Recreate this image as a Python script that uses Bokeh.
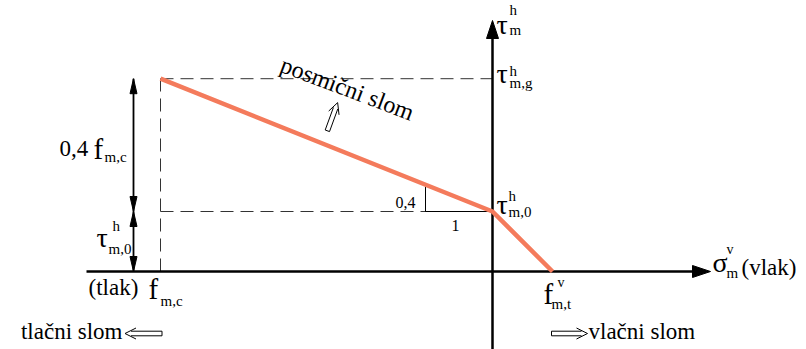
import numpy as np
from bokeh.plotting import figure
from bokeh.models import Range1d
from bokeh.core.properties import value
from bokeh.embed import file_html
from bokeh.resources import INLINE

# ---------------- data ----------------
f_mc = -8.3          # compressive strength  (tlak)
f_mt = 1.5           # tensile strength      (vlak)
tau_m0 = 1.5         # shear strength at zero normal stress
tau_mg = 4.82        # limit shear strength  = tau_m0 + 0.4 |f_mc|
env_x = [-8.3, 0.0, 1.5]      # failure envelope, sigma
env_y = [4.82, 1.5, 0.0]      # failure envelope, tau
tri_run = 1.675               # horizontal leg of slope triangle ("1")
tri_rise = 0.67               # vertical leg of slope triangle ("0,4")
slope_labels = ["0,4", "1"]

# ---------------- figure ----------------
W, H = 806, 349
S = 40.0                       # pixels per data unit (both axes)
x0 = -12.3
y1 = 6.775
p = figure(width=W, height=H, output_backend="svg", toolbar_location=None,
           x_range=Range1d(x0, x0 + W / S), y_range=Range1d(y1 - H / S, y1),
           x_axis_location=None, y_axis_location=None, min_border=0)
p.grid.visible = False
p.outline_line_color = None
p.background_fill_color = "white"
p.border_fill_color = "white"

ybot = y1 - H / S
SERIF = "Liberation Serif"


def label(x, y, txt, dx, dy, size, align="left", angle=0.0, font=SERIF):
    corr = -(0.25 * size + 1)   # compensate baseline placement
    p.text(x=[x], y=[y], text=[txt], x_offset=dx, y_offset=dy + corr,
           text_font=value(font), text_font_size=f"{size}px",
           text_align=align, text_baseline="alphabetic", angle=angle,
           text_color="black")


def head(tx, ty, ux, uy, length, half):
    """filled triangle head, tip at (tx,ty) data, direction (ux,uy) screen-up"""
    bx, by = -ux * length, -uy * length
    nx, ny = -uy * half, ux * half
    xs = [tx, tx + (bx + nx) / S, tx + (bx - nx) / S]
    ys = [ty, ty + (by + ny) / S, ty + (by - ny) / S]
    return xs, ys


def double_arrow(ax, ay, cx, cy, length, ang):
    """open double-line arrow centred at screen offset (cx,cy) from (ax,ay);
    ang = direction in radians (counter-clockwise, y up)"""
    ux, uy = np.cos(ang), np.sin(ang)
    nx, ny = -uy, ux
    cxd, cyd = ax + cx / S, ay - cy / S

    def pt(u, v):
        return cxd + (u * ux + v * nx) / S, cyd + (u * uy + v * ny) / S
    L = length / 2.0
    g = 2.3
    lines = []
    for s in (1, -1):
        a, b = pt(-L, s * g), pt(L - 6, s * g)
        lines.append(([a[0], b[0]], [a[1], b[1]]))
        c, d = pt(L - 11, s * 5.5), pt(L, 0)
        lines.append(([c[0], d[0]], [c[1], d[1]]))
    a, b = pt(-L, g), pt(-L, -g)
    lines.append(([a[0], b[0]], [a[1], b[1]]))
    p.multi_line(xs=[l[0] for l in lines], ys=[l[1] for l in lines],
                 line_color="black", line_width=1)


# ---------------- dashed guide lines ----------------
DASH = "13 7"
p.line([f_mc, 0], [tau_mg, tau_mg], line_color="#333333", line_width=1, line_dash=DASH)
p.line([f_mc, 0], [tau_m0, tau_m0], line_color="#333333", line_width=1, line_dash=DASH)
p.line([f_mc, f_mc], [0, tau_mg], line_color="#333333", line_width=1, line_dash=DASH)

# ---------------- axes with arrows ----------------
ytip = y1 - 20 / S
xtip = 5.45
xleft = -10.15
p.line([0, 0], [ybot, ytip - 10 / S], line_color="black", line_width=2.5)
p.line([xleft, xtip - 10 / S], [0, 0], line_color="black", line_width=2.5)
hx1, hy1 = head(0, ytip, 0, 1, 18, 6)
hx2, hy2 = head(xtip, 0, 1, 0, 18, 6)
p.patches(xs=[hx1, hx2], ys=[hy1, hy2], fill_color="black", line_color="black")

# ---------------- slope triangle ----------------
p.line([-tri_run, -tri_run, 0], [tau_m0 + tri_rise, tau_m0, tau_m0],
       line_color="black", line_width=1)

# ---------------- failure envelope ----------------
p.line(env_x, env_y, line_color="#F47B5C", line_width=4.5, line_join="round")

# ---------------- dimension line ----------------
x_dim = f_mc - 27 / S
p.line([x_dim, x_dim], [0, tau_mg], line_color="black", line_width=1.8)
hs = [head(x_dim, tau_mg, 0, 1, 15, 3.5), head(x_dim, tau_m0, 0, -1, 15, 3.5),
      head(x_dim, tau_m0, 0, 1, 15, 3.5), head(x_dim, 0, 0, -1, 15, 3.5)]
p.patches(xs=[h[0] for h in hs], ys=[h[1] for h in hs],
          fill_color="black", line_color="black")

# ---------------- labels ----------------
TAU, SUB, BIG, TXT = 28, 15, 29, 23
# tau axis title
label(0, ytip, "τ", 4, 12, TAU)
label(0, ytip, "h", 17, -6, SUB)
label(0, ytip, "m", 17, 14, SUB)
# tau_m,g
label(0, tau_mg, "τ", 4, 3, TAU)
label(0, tau_mg, "h", 17, -3, SUB)
label(0, tau_mg, "m,g", 17, 9, SUB)
# tau_m,0 (right)
label(0, tau_m0, "τ", 4, 1, TAU)
label(0, tau_m0, "h", 16, -11, SUB)
label(0, tau_m0, "m,0", 16, 5, SUB)
# sigma axis title
label(xtip, 0, "σ", 2, -1, TAU)
label(xtip, 0, "v", 16, -18, 14)
label(xtip, 0, "m", 16, 6, SUB)
label(xtip, 0, "(vlak)", 31, 3, TXT)
# f_m,t
label(f_mt, 0, "f", -9, 31, BIG)
label(f_mt, 0, "v", 5, 15, 14)
label(f_mt, 0, "m,t", -1, 37, SUB)
# f_m,c
label(f_mc, 0, "(tlak)", -72, 23, TXT)
label(f_mc, 0, "f", -12, 26, BIG)
label(f_mc, 0, "m,c", 0, 34, SUB)
# dimension labels
ymid = (tau_m0 + tau_mg) / 2
label(x_dim, ymid, "0,4", -74, 10, TXT)
label(x_dim, ymid, "f", -40, 12, BIG)
label(x_dim, ymid, "m,c", -29, 17, SUB)
label(x_dim, tau_m0 / 2, "τ", -37, 4, TAU)
label(x_dim, tau_m0 / 2, "h", -21, -11, SUB)
label(x_dim, tau_m0 / 2, "m,0", -25, 12, SUB)
# slope triangle labels
label(-tri_run, tau_m0, slope_labels[0], -10, -4, 16, align="right")
label(-tri_run, tau_m0, slope_labels[1], 30, 19, 16, align="center")
# failure modes
label(f_mc, 0, "tlačni slom", -38, 67, TXT, align="right")
double_arrow(f_mc, 0, -17, 62, 37, np.pi)
label(f_mt, 0, "vlačni slom", 36, 67, TXT)
double_arrow(f_mt, 0, 17, 62, 36, 0.0)
label(f_mc, tau_mg, "posmični slom", 121, -8, 24, angle=-0.36)
double_arrow(f_mc, tau_mg, 172, 38, 30, np.pi / 2 - 0.35)

open("out.html", "w").write(file_html(p, INLINE))
